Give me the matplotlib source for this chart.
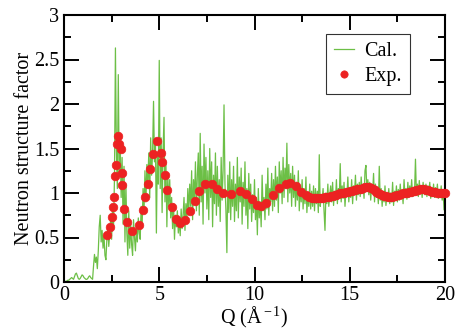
import numpy as np
import matplotlib
matplotlib.use("Agg")
import matplotlib.pyplot as plt
from matplotlib.ticker import MultipleLocator

plt.rcParams['font.family'] = ['Liberation Serif', 'DejaVu Serif']
plt.rcParams['mathtext.fontset'] = 'custom'
plt.rcParams['mathtext.rm'] = 'Liberation Serif'
plt.rcParams['mathtext.it'] = 'Liberation Serif:italic'

# Calculated structure factor, sampled every 0.05 1/A from Q = 0 to 20
cal_step = 0.05
cal_values = [
    # 0.00 - 1.50
    0.00, 0.00, 0.01, 0.01, 0.02, 0.02, 0.03, 0.04, 0.05, 0.04, 0.03, 0.06, 0.09, 0.10, 0.07, 0.04,
    0.03, 0.04, 0.06, 0.08, 0.07, 0.05, 0.04, 0.03, 0.03, 0.04, 0.06, 0.07, 0.05, 0.04, 0.03,
    # 1.55 - 2.0
    0.18, 0.31, 0.22, 0.28, 0.15, 0.35, 0.62, 0.75, 0.45, 0.58,
    0.38, 0.52, 0.30, 0.25, 0.48, 0.62, 0.40, 0.55, 0.72, 0.48,
    0.85, 0.62, 1.18, 2.63, 1.48, 1.05, 2.33, 1.20, 1.55, 0.95,
    1.40, 0.65, 1.30, 0.45, 1.10, 0.55, 0.30, 0.80, 0.38, 0.65,
    0.42, 0.30, 0.70, 0.50, 0.35, 0.62, 0.45, 0.72, 0.55, 0.48,
    0.85, 0.62, 1.05, 0.78, 1.25, 0.90, 1.32, 1.10, 1.45, 0.95,
    1.62, 1.20, 1.45, 2.03, 1.35, 1.58, 0.55, 1.45, 1.10, 2.49,
    1.05, 1.62, 0.78, 1.48, 1.85, 0.90, 1.35, 0.62, 1.20, 0.85,
    1.15, 0.72, 0.95, 0.60, 0.88, 0.48, 0.75, 0.62, 0.80, 0.55,
    0.70, 0.52, 0.82, 0.60, 0.75, 0.95, 0.58, 0.88, 0.70, 1.05,
    0.78, 1.10, 0.85, 1.25, 0.70, 1.15, 0.92, 1.35, 0.80, 1.20,
    # 7.05 - 7.5
    1.45, 0.75, 1.67, 0.90, 1.30, 0.65, 1.55, 1.00, 1.40, 0.82,
    1.25, 0.70, 1.50, 0.95, 1.35, 0.62, 1.20, 0.88, 1.45, 0.75,
    1.30, 0.85, 1.15, 0.68, 1.40, 0.92, 1.25, 1.99, 1.10, 0.80,
    0.33, 1.20, 0.78, 1.35, 0.70, 1.15, 0.85, 1.30, 0.68, 1.10,
    0.80, 1.40, 0.72, 1.18, 0.90, 1.28, 0.65, 1.12, 0.85, 1.35,
    0.75, 1.05, 0.60, 1.22, 0.82, 1.10, 0.68, 0.98, 0.78, 1.15,
    # 10.05 - 10.5
    0.70, 0.95, 0.53, 1.05, 0.72, 0.90, 0.62, 1.20, 0.80, 0.95,
    0.70, 1.10, 0.82, 1.28, 0.75, 1.05, 0.90, 1.22, 0.80, 1.15,
    0.85, 1.30, 0.92, 1.18, 0.78, 1.35, 1.00, 1.25, 0.88, 1.40,
    0.95, 1.28, 1.05, 1.56, 0.90, 1.32, 1.00, 1.22, 0.85, 1.30,
    0.95, 1.20, 0.85, 1.12, 0.92, 1.25, 0.80, 1.08, 0.90, 1.15,
    0.82, 1.05, 0.88, 1.18, 0.78, 1.00, 0.85, 1.10, 0.82, 1.02,
    # 13.05 - 13.5
    0.85, 1.08, 0.80, 1.05, 0.88, 1.02, 0.78, 1.43, 0.85, 0.98,
    0.92, 1.05, 0.80, 0.58, 1.00, 0.88, 1.10, 0.85, 0.98, 1.08,
    0.90, 1.12, 0.86, 1.02, 0.92, 1.15, 0.88, 1.05, 0.95, 1.33,
    0.90, 1.08, 0.94, 1.12, 0.85, 1.02, 0.96, 1.18, 0.90, 1.05,
    0.95, 1.15, 0.88, 1.08, 1.00, 1.20, 0.92, 1.10, 0.98, 1.12,
    0.96, 1.18, 1.00, 1.10, 0.94, 1.25, 1.31, 1.02, 1.15, 0.98,
    # 16.05 - 16.5
    1.12, 0.92, 1.08, 1.00, 1.22, 0.90, 1.10, 0.95, 1.05, 0.88,
    1.30, 0.92, 1.05, 0.85, 1.02, 0.90, 1.08, 0.86, 0.98, 0.92,
    1.05, 0.88, 1.00, 0.90, 1.12, 0.86, 1.02, 0.94, 1.08, 0.90,
    1.04, 0.92, 1.10, 0.95, 1.02, 0.88, 1.15, 0.96, 1.05, 0.93,
    1.12, 0.95, 1.08, 0.98, 1.15, 0.96, 1.06, 1.00, 1.38, 0.98,
    1.10, 0.96, 1.14, 1.00, 1.08, 0.95, 1.12, 1.02, 0.98, 1.10,
    0.96, 1.08, 1.00, 1.12, 0.94, 1.05, 0.98, 1.10, 0.95, 1.06,
    0.98, 1.10, 0.94, 1.04, 0.96, 1.08, 0.92, 1.02, 0.81, 0.95,
]
cal_q = np.arange(len(cal_values)) * cal_step

# Experimental points
exp_q = [2.24, 2.40, 2.50, 2.59, 2.64, 2.70, 2.75, 2.80, 2.86, 2.90, 2.97, 3.02, 3.04, 3.17, 3.31,
         3.55, 3.92, 4.13, 4.27, 4.41, 4.51, 4.67, 4.88, 5.07, 5.14, 5.30, 5.43, 5.65, 5.86,
         6.09, 6.37, 6.60, 6.86, 7.10, 7.40, 7.75, 8.01, 8.33, 8.77, 9.24, 9.55, 9.85, 10.12,
         10.34, 10.60, 10.97, 11.27, 11.65, 11.86, 12.18, 12.42, 12.70, 12.85, 13.0,
         13.1, 13.2, 13.3, 13.4, 13.5, 13.6, 13.7, 13.8, 13.9, 14.0, 14.1, 14.2, 14.3, 14.4,
         14.5, 14.6, 14.7, 14.8, 14.9, 15.0, 15.1, 15.2, 15.3, 15.4, 15.5, 15.6, 15.7, 15.8,
         15.9, 16.0, 16.1, 16.2, 16.3, 16.4, 16.5, 16.6, 16.7, 16.8, 16.9, 17.0, 17.1, 17.2,
         17.3, 17.4, 17.5, 17.6, 17.7, 17.8, 17.9, 18.0, 18.1, 18.2, 18.3, 18.4, 18.5, 18.6,
         18.7, 18.8, 18.9, 19.0, 19.1, 19.2, 19.3, 19.4, 19.5, 19.6, 19.7, 19.8, 19.9, 20.0]
exp_s = [0.525, 0.614, 0.727, 0.839, 0.951, 1.19, 1.318, 1.55, 1.637, 1.55, 1.50, 1.228, 1.086, 0.82, 0.678,
         0.577, 0.64, 0.809, 0.951, 1.105, 1.27, 1.442, 1.584, 1.453, 1.348, 1.199, 1.034, 0.839, 0.708,
         0.659, 0.697, 0.798, 0.914, 1.026, 1.105, 1.097, 1.049, 1.004, 0.993, 1.026, 0.993, 0.933, 0.861,
         0.854, 0.891, 0.974, 1.052, 1.105, 1.116, 1.075, 1.015, 0.978, 0.96, 0.948,
         0.945, 0.94, 0.94, 0.94, 0.94, 0.945, 0.95, 0.955, 0.96, 0.965, 0.97, 0.975, 0.98, 0.99,
         0.995, 1.0, 1.005, 1.01, 1.015, 1.02, 1.025, 1.03, 1.035, 1.04, 1.045, 1.05, 1.06, 1.065,
         1.07, 1.065, 1.055, 1.045, 1.03, 1.015, 1.0, 0.99, 0.98, 0.97, 0.965, 0.96, 0.96, 0.96,
         0.965, 0.97, 0.975, 0.98, 0.99, 0.995, 1.0, 1.005, 1.01, 1.015, 1.02, 1.025, 1.03, 1.035,
         1.04, 1.04, 1.04, 1.035, 1.03, 1.02, 1.015, 1.01, 1.01, 1.005, 1.005, 1.0, 1.0, 1.0]

x_ticks = [0, 5, 10, 15, 20]
y_ticks = [0, 0.5, 1, 1.5, 2, 2.5, 3]
y_tick_labels = ["0", "0.5", "1", "1.5", "2", "2.5", "3"]

fig = plt.figure(figsize=(4.62, 3.32), dpi=100)
ax = fig.add_axes([64 / 462, 1 - 282 / 332, (445 - 64) / 462, (282 - 15) / 332])

ax.plot(cal_q, cal_values, color='#6cbf46', lw=0.9, label='Cal.', zorder=2)
ax.plot(exp_q, exp_s, 'o', color='#ec2222', ms=6.2, mec='#ec2222', mew=0.5,
        label='Exp.', zorder=3, clip_on=False)

ax.set_xlim(0, 20)
ax.set_ylim(0, 3)
ax.set_xticks(x_ticks)
ax.set_xticklabels([str(t) for t in x_ticks])
ax.set_yticks(y_ticks)
ax.set_yticklabels(y_tick_labels)
ax.xaxis.set_minor_locator(MultipleLocator(2.5))
ax.yaxis.set_minor_locator(MultipleLocator(0.25))
ax.tick_params(which='both', direction='in', top=True, right=True, width=1.4, labelsize=14.5)
ax.tick_params(which='major', length=11)
ax.tick_params(which='minor', length=5)
ax.tick_params(axis='x', pad=3)
for sp in ax.spines.values():
    sp.set_linewidth(1.5)

ax.set_xlabel('Q (Å$^{\\rm -1}$)', fontsize=14.5, labelpad=0)
ax.set_ylabel('Neutron structure factor', fontsize=14.5, labelpad=0)

leg = ax.legend(loc='upper right', bbox_to_anchor=(0.908, 0.929), borderaxespad=0,
                fontsize=14.5, fancybox=False, frameon=True, handlelength=1.0,
                handletextpad=0.5, borderpad=0.4, labelspacing=0.3, markerscale=0.85)
leg.get_frame().set_edgecolor('black')
leg.get_frame().set_linewidth(0.8)

fig.savefig('out.png', dpi=100)
